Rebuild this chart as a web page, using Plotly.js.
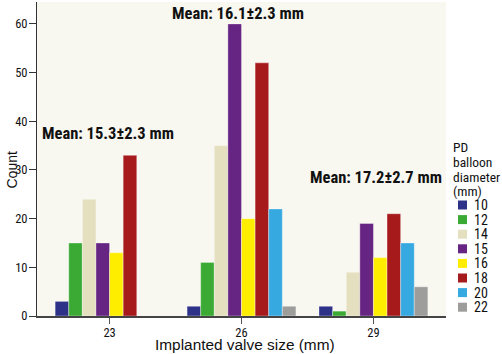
<!DOCTYPE html>
<html>
<head>
<meta charset="utf-8">
<script src="https://cdn.plot.ly/plotly-3.0.1.min.js"></script>
<style>
html,body{margin:0;padding:0;background:#fff;}
#chart{width:502px;height:354px;}
/* condensed face of the variable Roboto font (global, so Plotly's text measuring sees it too) */
text[style*="Roboto"]{font-stretch:75% !important;}
</style>
</head>
<body>
<div id="chart"></div>
<script>
// ---- data ----
const valveSizes = ['23', '26', '29'];
const balloonDiameters = ['10', '12', '14', '15', '16', '18', '20', '22'];
const count10 = [3, 2, 2];
const count12 = [15, 11, 1];
const count14 = [24, 35, 9];
const count15 = [15, 60, 19];
const count16 = [13, 20, 12];
const count18 = [33, 52, 21];
const count20 = [null, 22, 15];
const count22 = [null, 2, 6];
const meanLabels = ['Mean: 15.3±2.3 mm', 'Mean: 16.1±2.3 mm', 'Mean: 17.2±2.7 mm'];
const yTicks = [0, 10, 20, 30, 40, 50, 60];
const legendTitleLines = ['PD', 'balloon', 'diameter', '(mm)'];
const xTitle = 'Implanted valve size (mm)';
const yTitle = 'Count';

// ---- styles ----
const seriesCounts = [count10, count12, count14, count15, count16, count18, count20, count22];
const colors = ['#2e3188', '#3aaa35', '#e4e0bf', '#662483', '#ffed00', '#a71a1c', '#36a9e1', '#9d9d9c'];
const condensed = 'Roboto, "DejaVu Sans", sans-serif';
const regular = '"Liberation Sans", Arial, sans-serif';

const traces = balloonDiameters.map((d, i) => ({
  type: 'bar',
  name: d,
  x: valveSizes,
  y: seriesCounts[i],
  marker: {color: colors[i], line: {color: 'rgba(255,255,255,0.35)', width: 1}},
  showlegend: false,
  hoverinfo: 'x+y+name'
}));

// plot geometry (pixels) for converting layout positions
const L = 37, R = 56, T = 2, B = 38, W = 502, H = 354;
const pw = W - L - R, ph = H - T - B;
const px2paperX = px => (px - L) / pw;
const py2paperY = py => (H - B - py) / ph;

const meanPos = [[40, 133], [170, 14], [308, 177.5]];
const annotations = meanLabels.map((t, i) => ({
  text: '<b>' + t + '</b>',
  xref: 'paper', yref: 'paper',
  x: px2paperX(meanPos[i][0]), y: py2paperY(meanPos[i][1]),
  xanchor: 'left', yanchor: 'middle',
  showarrow: false,
  font: {family: condensed, size: 16.5, color: '#111'}
}));

// axis titles
annotations.push({
  text: xTitle, xref: 'paper', yref: 'paper',
  x: px2paperX(245), y: py2paperY(344.5), xanchor: 'center', yanchor: 'middle',
  showarrow: false, font: {family: regular, size: 15.4, color: '#111'}
});
annotations.push({
  text: yTitle, xref: 'paper', yref: 'paper', textangle: -90,
  x: px2paperX(11.5), y: py2paperY(170), xanchor: 'center', yanchor: 'middle',
  showarrow: false, font: {family: regular, size: 14, color: '#111'}
});

// legend (key) built from the series names and colours
const legTitleY = [147, 162, 177, 191];
legendTitleLines.forEach((t, i) => annotations.push({
  text: t, xref: 'paper', yref: 'paper',
  x: px2paperX(451), y: py2paperY(legTitleY[i]),
  xanchor: 'left', yanchor: 'middle', showarrow: false,
  font: {family: condensed, size: 13.5, color: '#111'}
}));

const shapes = [];
const itemY0 = 205, itemStep = 14.6;
balloonDiameters.forEach((d, i) => {
  const cy = itemY0 + i * itemStep;
  annotations.push({
    text: d, xref: 'paper', yref: 'paper',
    x: px2paperX(472), y: py2paperY(cy),
    xanchor: 'left', yanchor: 'middle', showarrow: false,
    font: {family: condensed, size: 14, color: '#111'}
  });
  shapes.push({
    type: 'rect', xref: 'paper', yref: 'paper',
    x0: px2paperX(458), x1: px2paperX(467),
    y0: py2paperY(cy - 4.5), y1: py2paperY(cy + 4.5),
    fillcolor: colors[i], line: {width: 0}
  });
});

const layout = {
  width: W, height: H,
  margin: {l: L, r: R, t: T, b: B, pad: 0},
  paper_bgcolor: '#ffffff',
  plot_bgcolor: '#f8f7f0',
  barmode: 'group',
  bargap: 0.175,
  bargroupgap: 0,
  showlegend: false,
  xaxis: {
    type: 'category',
    range: [-0.55, 2.55],
    showline: true, linecolor: '#444', linewidth: 1.5,
    ticks: 'outside', ticklen: 6, tickcolor: '#555', tickwidth: 1,
    ticklabelstandoff: -2,
    showgrid: false, zeroline: false,
    tickfont: {family: condensed, size: 12.5, color: '#111'}
  },
  yaxis: {
    range: [0, 64.5],
    tickvals: yTicks,
    showline: true, linecolor: '#333', linewidth: 1,
    ticks: 'outside', ticklen: 7, tickcolor: '#333',
    ticklabelstandoff: -1,
    showgrid: false, zeroline: false,
    tickfont: {family: condensed, size: 12.5, color: '#111'}
  },
  annotations: annotations,
  shapes: shapes
};

Plotly.newPlot('chart', traces, layout, {displayModeBar: false, staticPlot: true});
</script>
</body>
</html>
